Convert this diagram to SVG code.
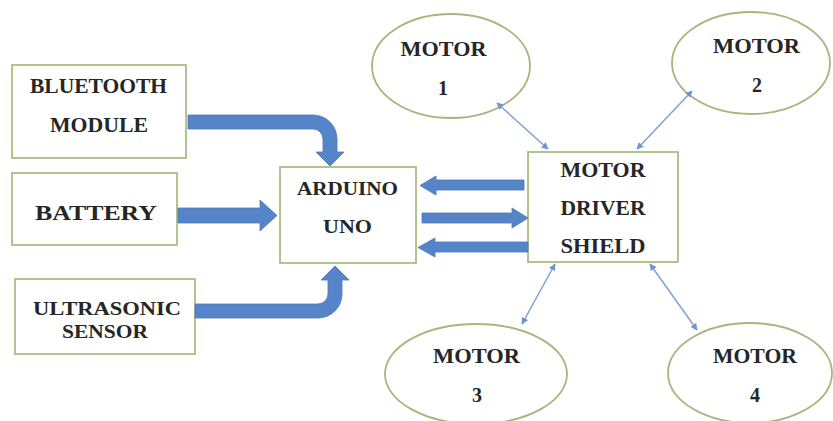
<svg xmlns="http://www.w3.org/2000/svg" width="833" height="421" viewBox="0 0 833 421">
<style>
.box{fill:#ffffff;stroke:#a9bd84;stroke-width:1.8}
.ell{fill:#ffffff;stroke:#a9b47e;stroke-width:1.8}
.t{font-family:"Liberation Serif","DejaVu Serif","Times New Roman",serif;font-weight:bold;font-size:20px;fill:#262626;text-anchor:middle}
.big{fill:#5585c8;stroke:#4a78b8;stroke-width:0.8}
.thin{fill:none;stroke:#7ea2d2;stroke-width:1.5;marker-start:url(#ah);marker-end:url(#ah)}
</style>
<defs>
<marker id="ah" viewBox="0 0 10 10" refX="9" refY="5" markerWidth="7" markerHeight="7" orient="auto-start-reverse" markerUnits="userSpaceOnUse">
<path d="M0,0 L10,5 L0,10 Z" fill="#6f96cc"/>
</marker>
</defs>
<rect width="833" height="421" fill="#ffffff"/>

<g id="bluetooth">
<rect class="box" x="12" y="65" width="174" height="93"/>
<text class="t" x="98.5" y="93" textLength="137" lengthAdjust="spacingAndGlyphs">BLUETOOTH</text>
<text class="t" x="99" y="132" textLength="98" lengthAdjust="spacingAndGlyphs">MODULE</text>
</g>
<g id="battery">
<rect class="box" x="12" y="173" width="165" height="72"/>
<text class="t" x="96" y="220" style="font-size:22px" textLength="122" lengthAdjust="spacingAndGlyphs">BATTERY</text>
</g>
<g id="ultrasonic">
<rect class="box" x="15" y="279" width="180" height="75"/>
<text class="t" x="107" y="315" style="font-size:19px" textLength="148" lengthAdjust="spacingAndGlyphs">ULTRASONIC</text>
<text class="t" x="105" y="338" style="font-size:19px" textLength="86" lengthAdjust="spacingAndGlyphs">SENSOR</text>
</g>
<g id="arduino">
<rect class="box" x="280" y="167" width="136" height="96"/>
<text class="t" x="347.5" y="195" style="font-size:19px" textLength="101" lengthAdjust="spacingAndGlyphs">ARDUINO</text>
<text class="t" x="347.5" y="233" style="font-size:19px" textLength="49" lengthAdjust="spacingAndGlyphs">UNO</text>
</g>
<g id="driver">
<rect class="box" x="528" y="152" width="150" height="110"/>
<text class="t" x="603" y="177" textLength="85" lengthAdjust="spacingAndGlyphs">MOTOR</text>
<text class="t" x="603" y="215" textLength="85" lengthAdjust="spacingAndGlyphs">DRIVER</text>
<text class="t" x="603" y="253" textLength="85" lengthAdjust="spacingAndGlyphs">SHIELD</text>
</g>
<g id="motor1">
<ellipse class="ell" cx="451" cy="66" rx="79" ry="52"/>
<text class="t" x="443.5" y="56" textLength="86" lengthAdjust="spacingAndGlyphs">MOTOR</text>
<text class="t" x="443" y="95">1</text>
</g>
<g id="motor2">
<ellipse class="ell" cx="751" cy="63" rx="79" ry="51"/>
<text class="t" x="756.5" y="53" textLength="87" lengthAdjust="spacingAndGlyphs">MOTOR</text>
<text class="t" x="757" y="92">2</text>
</g>
<g id="motor3">
<ellipse class="ell" cx="476" cy="374" rx="91" ry="50"/>
<text class="t" x="476.5" y="363" textLength="87" lengthAdjust="spacingAndGlyphs">MOTOR</text>
<text class="t" x="477" y="402">3</text>
</g>
<g id="motor4">
<ellipse class="ell" cx="750" cy="373" rx="82" ry="50"/>
<text class="t" x="755" y="363" textLength="84" lengthAdjust="spacingAndGlyphs">MOTOR</text>
<text class="t" x="755" y="402">4</text>
</g>

<g id="connectors">
<path class="big" d="M188,115 H313 A24,24 0 0 1 337,139 V152 H344 L330,166 L316,152 H323 V139 A10,10 0 0 0 313,129 H188 Z"/>
<path class="big" d="M178,208 H260 V200 L277,215.5 L260,231 V223 H178 Z"/>
<path class="big" d="M195,318 H318 A24,24 0 0 0 342,294 V280 H349 L335,266 L321,280 H328 V294 A10,10 0 0 1 318,304 H195 Z"/>
<path class="big" d="M524,180 H436 V176 L420,185.5 L436,195 V190 H524 Z"/>
<path class="big" d="M422,213 H512 V208 L528,218 L512,228 V223 H422 Z"/>
<path class="big" d="M528,242 H435 V238 L418,247.5 L435,257 V252 H528 Z"/>
<line class="thin" x1="497" y1="103" x2="548" y2="149"/>
<line class="thin" x1="692" y1="91" x2="637" y2="149"/>
<line class="thin" x1="555" y1="264" x2="522" y2="324"/>
<line class="thin" x1="650" y1="264" x2="697" y2="330"/>
</g>
</svg>
